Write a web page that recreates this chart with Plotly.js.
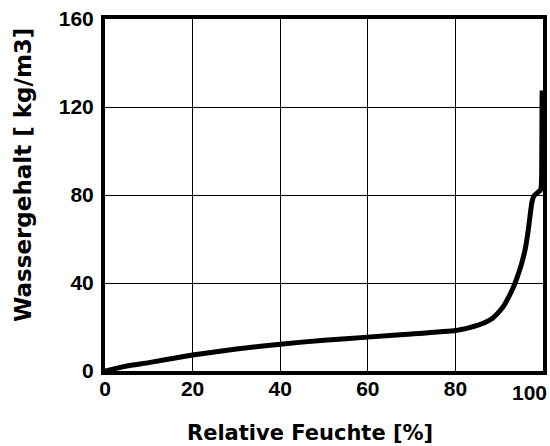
<!DOCTYPE html>
<html>
<head>
<meta charset="utf-8">
<script src="https://cdn.plot.ly/plotly-3.0.1.min.js"></script>
<style>html,body{margin:0;padding:0;background:#fff;}#chart{width:550px;height:446px;}</style>
</head>
<body>
<div id="chart"></div>
<script>
const relHumidity = [0, 5, 10, 20, 30, 40, 50, 60, 70, 80, 83, 85, 87, 88.5, 90, 91, 92, 93, 94, 95, 96, 96.7, 97.2, 97.5, 97.9, 98.7, 99.5, 99.7, 99.8];
const waterContent = [0, 2.3, 3.8, 7.3, 10, 12.2, 14, 15.4, 16.8, 18.4, 19.6, 20.7, 22.3, 24, 27, 29.5, 33, 37, 42, 48, 56, 65, 73, 77, 79.5, 81, 82.5, 90, 127.5];
const xTicks = [0, 20, 40, 60, 80, 100];
const yTicks = [0, 40, 80, 120, 160];
const xTitle = 'Relative Feuchte [%]';
const yTitle = 'Wassergehalt [ kg/m3]';

const tickFont = {family: 'Liberation Sans, Arial, sans-serif', size: 21, color: '#000', weight: 'bold'};
const titleFont = {family: 'DejaVu Sans, sans-serif', size: 21, color: '#000', weight: 'bold'};

const lastX = xTicks[xTicks.length - 1];
Plotly.newPlot('chart', [{
  x: relHumidity, y: waterContent, type: 'scatter', mode: 'lines',
  line: {color: '#000', width: 5, shape: 'spline', smoothing: 0.4},
  cliponaxis: true, hoverinfo: 'skip'
}], {
  width: 550, height: 446,
  margin: {l: 105, r: 7, t: 19, b: 75},
  paper_bgcolor: '#fff', plot_bgcolor: '#fff',
  showlegend: false,
  xaxis: {
    range: [0, 100], tickvals: xTicks, ticktext: xTicks.map(v => v === lastX ? '' : String(v)),
    showgrid: true, gridcolor: '#000', gridwidth: 1,
    zeroline: false, showline: true, linecolor: '#000', linewidth: 4, mirror: true,
    ticks: '', ticklabelstandoff: -4, tickfont: tickFont
  },
  yaxis: {
    range: [0, 160], tickvals: yTicks, ticktext: yTicks.map(String),
    showgrid: true, gridcolor: '#000', gridwidth: 1,
    zeroline: false, showline: true, linecolor: '#000', linewidth: 4, mirror: true,
    ticks: '', ticklabelstandoff: 3, ticklabeloverflow: 'allow', tickfont: tickFont
  },
  annotations: [
    {text: String(lastX), xref: 'x', yref: 'paper', x: lastX, y: 0, xanchor: 'right', yanchor: 'top', xshift: 6, yshift: -8, showarrow: false, font: tickFont},
    {text: xTitle, xref: 'paper', yref: 'paper', x: 0.468, y: -0.175, xanchor: 'center', yanchor: 'middle', showarrow: false, font: titleFont},
    {text: yTitle, xref: 'paper', yref: 'paper', x: -0.187, y: 0.557, xanchor: 'center', yanchor: 'middle', textangle: -90, showarrow: false, font: {family: titleFont.family, size: 23, color: '#000', weight: 'bold'}}
  ]
}, {staticPlot: true, displayModeBar: false});
</script>
</body>
</html>
